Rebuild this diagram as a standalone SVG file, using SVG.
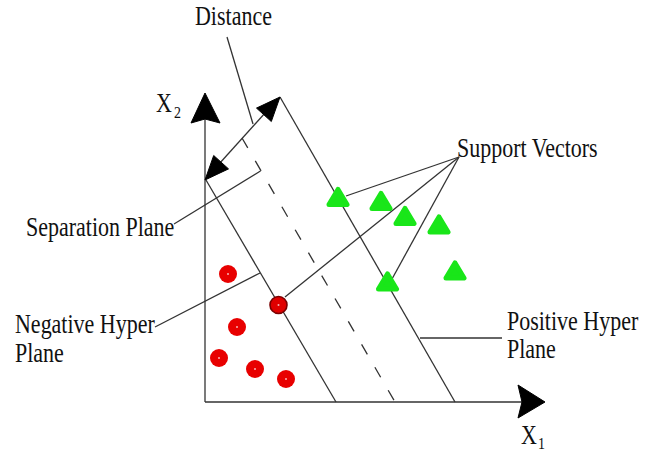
<svg xmlns="http://www.w3.org/2000/svg" xmlns:xlink="http://www.w3.org/1999/xlink" width="655" height="452" viewBox="0 0 655 452">
<defs>
<style>
.ln{stroke:#333;stroke-width:1.3;fill:none}
.dash{stroke:#333;stroke-width:1.3;fill:none;stroke-dasharray:11.5 15}
.ah{fill:#000;stroke:#000;stroke-width:1;stroke-linejoin:miter}
.lbl{font-family:"Liberation Serif","Times New Roman",serif;font-size:22px;fill:#111}
.sub{font-family:"Liberation Serif","Times New Roman",serif;font-size:14px;fill:#111}
.neg{fill:#e80000}
.negsv{fill:#e00000;stroke:#7a0000;stroke-width:1.6}
.dot{fill:#fff;opacity:0.7}
.pos{fill:#19e619;stroke:#19e619;stroke-width:5;stroke-linejoin:round}
</style>
<path id="tri" d="M0,-8 L9,7 L-9,7 Z"/>
</defs>
<rect width="655" height="452" fill="#fff"/>
<g id="connectors">
<line class="ln" x1="205" y1="118" x2="205" y2="402"/>
<line class="ln" x1="205" y1="402" x2="522" y2="402"/>
<polygon class="ah" points="205,93 220,123 205,119 191,123"/>
<polygon class="ah" points="545,402 518,418 522,402 518,385"/>
<line class="ln" x1="206" y1="180" x2="336" y2="402"/>
<line class="ln" x1="280" y1="97" x2="455" y2="402"/>
<line class="dash" x1="242" y1="138" x2="395" y2="402"/>
<line class="ln" x1="210" y1="174" x2="275" y2="102"/>
<polygon class="ah" points="280,97 271.3,121.5 263.9,114.8 256.5,108.1"/>
<polygon class="ah" points="205,180 213.7,155.5 221.1,162.2 228.5,168.9"/>
<line class="ln" x1="227" y1="37" x2="253" y2="124"/>
<line class="ln" x1="174" y1="224" x2="260.5" y2="171"/>
<line class="ln" x1="155" y1="327" x2="260" y2="273"/>
<line class="ln" x1="420" y1="338" x2="502" y2="338"/>
<line class="ln" x1="459" y1="157" x2="346" y2="196"/>
<line class="ln" x1="459" y1="157" x2="285" y2="297"/>
<line class="ln" x1="459" y1="157" x2="392" y2="279"/>
</g>
<g id="negative-points">
<circle class="neg" cx="228" cy="274" r="9"/><circle class="dot" cx="228" cy="274" r="1"/>
<circle class="neg" cx="237" cy="327" r="9"/><circle class="dot" cx="237" cy="327" r="1"/>
<circle class="neg" cx="219" cy="358" r="9"/><circle class="dot" cx="219" cy="358" r="1"/>
<circle class="neg" cx="255" cy="369" r="9"/><circle class="dot" cx="255" cy="369" r="1"/>
<circle class="neg" cx="286" cy="379" r="9"/><circle class="dot" cx="286" cy="379" r="1"/>
</g>
<g id="negative-support-vector">
<circle class="negsv" cx="278.5" cy="305" r="8.5"/><circle class="dot" cx="278.5" cy="305" r="1"/>
</g>
<g id="positive-points">
<use xlink:href="#tri" href="#tri" class="pos" x="338" y="197.5"/>
<use xlink:href="#tri" href="#tri" class="pos" x="381" y="201.5"/>
<use xlink:href="#tri" href="#tri" class="pos" x="405" y="216.5"/>
<use xlink:href="#tri" href="#tri" class="pos" x="439" y="225"/>
<use xlink:href="#tri" href="#tri" class="pos" x="455" y="271"/>
<use xlink:href="#tri" href="#tri" class="pos" x="387.5" y="282"/>
</g>
<g id="label-distance" transform="translate(195,25) scale(1,1.22)"><text class="lbl" x="0" y="0">Distance</text></g>
<g id="label-x2" transform="translate(156,112) scale(1,1.22)"><text class="lbl" x="0" y="0">X</text><text class="sub" x="18" y="5">2</text></g>
<g id="label-x1" transform="translate(521,443.5) scale(1,1.22)"><text class="lbl" x="0" y="0">X</text><text class="sub" x="17" y="4.5">1</text></g>
<g id="label-support-vectors" transform="translate(457,157) scale(1,1.22)"><text class="lbl" x="0" y="0">Support Vectors</text></g>
<g id="label-separation-plane" transform="translate(26,236) scale(1,1.22)"><text class="lbl" x="0" y="0">Separation Plane</text></g>
<g id="label-negative-hyper-plane" transform="translate(15,333) scale(1,1.22)"><text class="lbl" x="0" y="0">Negative Hyper</text><text class="lbl" x="0" y="23.5">Plane</text></g>
<g id="label-positive-hyper-plane" transform="translate(507,330) scale(1,1.22)"><text class="lbl" x="0" y="0">Positive Hyper</text><text class="lbl" x="0" y="23">Plane</text></g>
</svg>
